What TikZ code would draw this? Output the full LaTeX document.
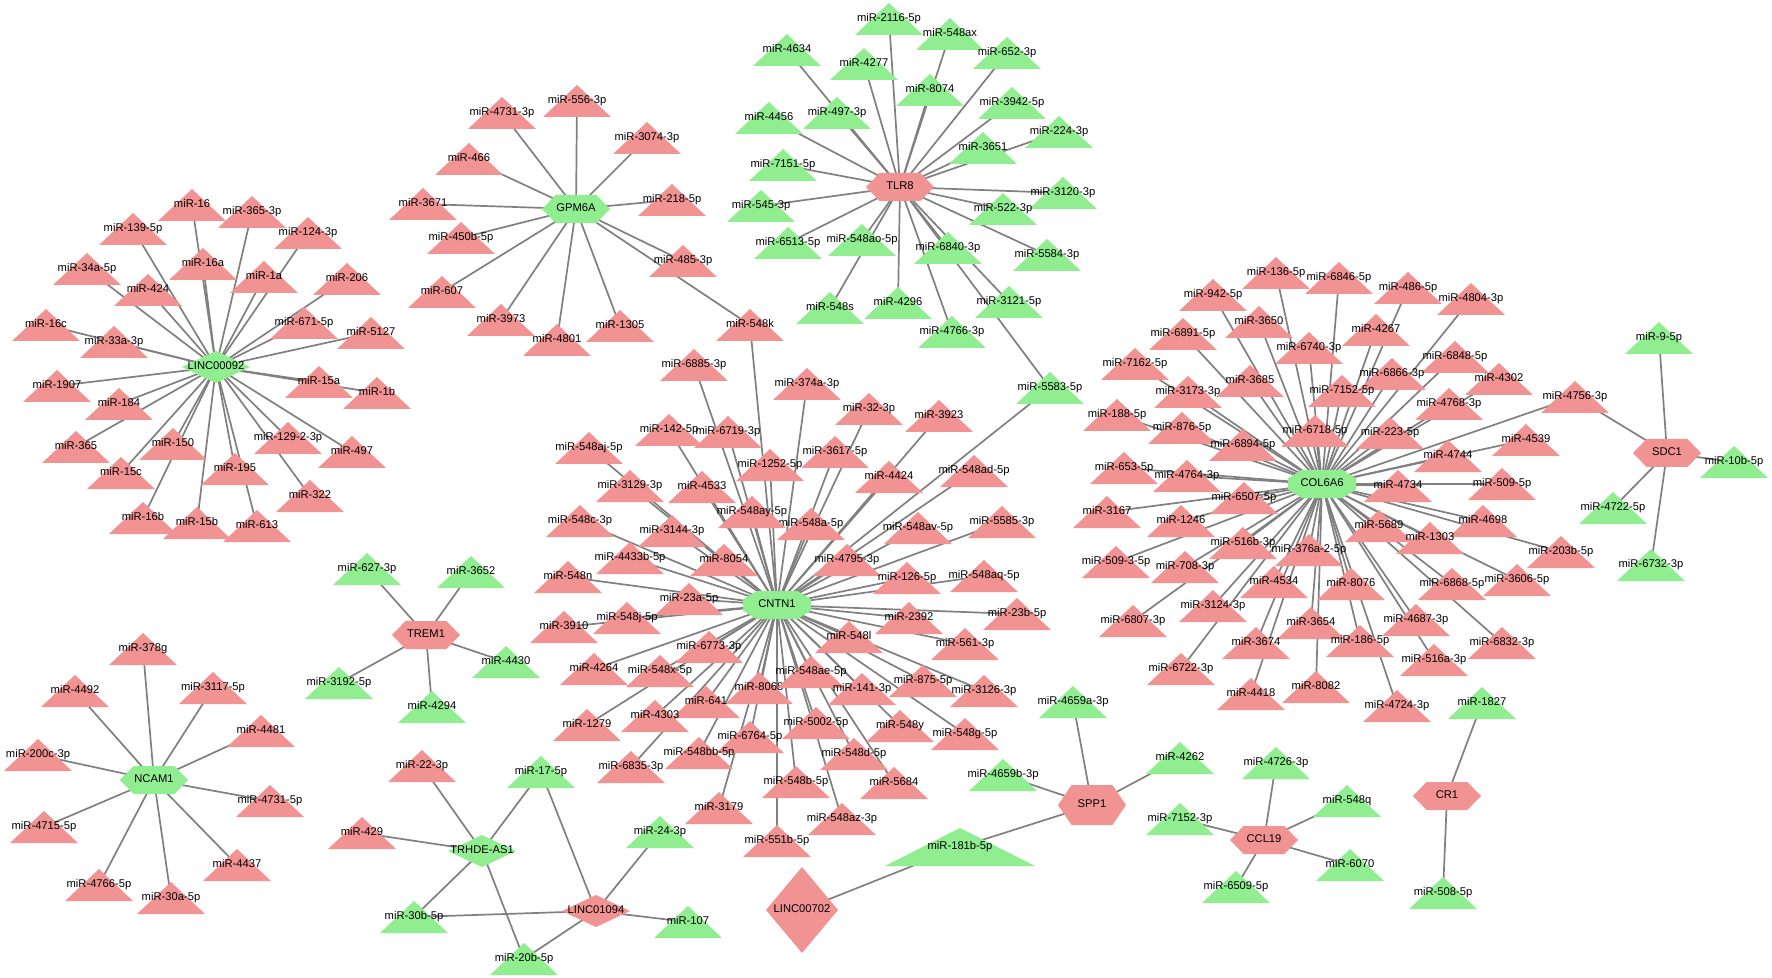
\documentclass[tikz,border=0pt]{standalone}
\usepackage{fontspec}
\setmainfont{Liberation Sans}
\definecolor{pk}{HTML}{F29393}
\definecolor{gr}{HTML}{90EE90}
\definecolor{edgec}{HTML}{808080}
\pgfdeclarelayer{back}
\pgfdeclarelayer{bg}
\pgfsetlayers{back,bg,main}
\makeatletter
\def\rsgetbox{%
  \southwest\edef\rxa{\strip@pt\pgf@x}\edef\rya{\strip@pt\pgf@y}%
  \northeast\edef\rxb{\strip@pt\pgf@x}\edef\ryb{\strip@pt\pgf@y}%
  \pgfmathsetmacro\rxm{((\rxa)+(\rxb))/2}%
  \pgfmathsetmacro\rym{((\rya)+(\ryb))/2}%
}
\def\rsq#1#2{\pgfqpoint{#1pt}{#2pt}}
\pgfdeclareshape{rstri}{%
  \inheritsavedanchors[from=rectangle]%
  \inheritanchorborder[from=rectangle]%
  \inheritanchor[from=rectangle]{center}%
  \inheritanchor[from=rectangle]{north}%
  \inheritanchor[from=rectangle]{south}%
  \inheritanchor[from=rectangle]{east}%
  \inheritanchor[from=rectangle]{west}%
  \backgroundpath{\rsgetbox
    \pgfpathmoveto{\rsq\rxa\rya}%
    \pgfpathlineto{\rsq\rxb\rya}%
    \pgfpathlineto{\rsq\rxm\ryb}%
    \pgfpathclose}%
}
\pgfdeclareshape{rshex}{%
  \inheritsavedanchors[from=rectangle]%
  \inheritanchorborder[from=rectangle]%
  \inheritanchor[from=rectangle]{center}%
  \inheritanchor[from=rectangle]{north}%
  \inheritanchor[from=rectangle]{south}%
  \inheritanchor[from=rectangle]{east}%
  \inheritanchor[from=rectangle]{west}%
  \backgroundpath{\rsgetbox
    \pgfmathsetmacro\rxi{(\rxa)+0.2*((\rxb)-(\rxa))}%
    \pgfmathsetmacro\rxj{(\rxb)-0.2*((\rxb)-(\rxa))}%
    \pgfpathmoveto{\rsq\rxa\rym}%
    \pgfpathlineto{\rsq\rxi\ryb}%
    \pgfpathlineto{\rsq\rxj\ryb}%
    \pgfpathlineto{\rsq\rxb\rym}%
    \pgfpathlineto{\rsq\rxj\rya}%
    \pgfpathlineto{\rsq\rxi\rya}%
    \pgfpathclose}%
}
\pgfdeclareshape{rsoct}{%
  \inheritsavedanchors[from=rectangle]%
  \inheritanchorborder[from=rectangle]%
  \inheritanchor[from=rectangle]{center}%
  \inheritanchor[from=rectangle]{north}%
  \inheritanchor[from=rectangle]{south}%
  \inheritanchor[from=rectangle]{east}%
  \inheritanchor[from=rectangle]{west}%
  \backgroundpath{\rsgetbox
    \pgfmathsetmacro\rxi{(\rxa)+0.2*((\rxb)-(\rxa))}%
    \pgfmathsetmacro\rxj{(\rxb)-0.2*((\rxb)-(\rxa))}%
    \pgfmathsetmacro\ryi{(\rya)+0.3*((\ryb)-(\rya))}%
    \pgfmathsetmacro\ryj{(\ryb)-0.3*((\ryb)-(\rya))}%
    \pgfpathmoveto{\rsq\rxa\ryi}%
    \pgfpathlineto{\rsq\rxa\ryj}%
    \pgfpathlineto{\rsq\rxi\ryb}%
    \pgfpathlineto{\rsq\rxj\ryb}%
    \pgfpathlineto{\rsq\rxb\ryj}%
    \pgfpathlineto{\rsq\rxb\ryi}%
    \pgfpathlineto{\rsq\rxj\rya}%
    \pgfpathlineto{\rsq\rxi\rya}%
    \pgfpathclose}%
}
\pgfdeclareshape{rsdia}{%
  \inheritsavedanchors[from=rectangle]%
  \inheritanchorborder[from=rectangle]%
  \inheritanchor[from=rectangle]{center}%
  \inheritanchor[from=rectangle]{north}%
  \inheritanchor[from=rectangle]{south}%
  \inheritanchor[from=rectangle]{east}%
  \inheritanchor[from=rectangle]{west}%
  \backgroundpath{\rsgetbox
    \pgfpathmoveto{\rsq\rxa\rym}%
    \pgfpathlineto{\rsq\rxm\ryb}%
    \pgfpathlineto{\rsq\rxb\rym}%
    \pgfpathlineto{\rsq\rxm\rya}%
    \pgfpathclose}%
}
\makeatother
\tikzset{
  nbase/.style={inner sep=0pt, outer sep=0pt, font=\fontsize{5.6}{6}\selectfont, text height=4.1pt, text depth=1.2pt, text=black},
  tp/.style={nbase, shape=rstri, fill=pk, minimum width=34pt, minimum height=16pt},
  tg/.style={nbase, shape=rstri, fill=gr, minimum width=34pt, minimum height=16pt},
  hexP/.style={nbase, shape=rshex, fill=pk, minimum width=34pt, minimum height=14pt},
  hexG/.style={nbase, shape=rshex, fill=gr, minimum width=34pt, minimum height=14pt},
  octG/.style={nbase, shape=rsoct, fill=gr, minimum width=34pt, minimum height=14pt},
  diaG/.style={nbase, shape=rsdia, fill=gr, minimum width=34pt, minimum height=16pt},
  diaP/.style={nbase, shape=rsdia, fill=pk, minimum width=34pt, minimum height=16pt},
  lnk/.style={draw=edgec, line width=0.85pt},
}
\newcommand\nP[2]{\node[tp] (m#1) at (#2) {\makebox[0pt]{miR-#1}};}
\newcommand\nG[2]{\node[tg] (m#1) at (#2) {\makebox[0pt]{miR-#1}};}
\newcommand\hubedges[2]{\foreach \t in {#2}{\draw[lnk] (#1.center) -- (m\t.center);}}
\begin{document}
\begin{tikzpicture}[x=0.5pt,y=-0.5pt]
\useasboundingbox (0,0) rectangle (1772,978);
\begin{pgfonlayer}{back}
\fill[white] (0,0) rectangle (1772,978);
\end{pgfonlayer}
% ---------- LINC00092 cluster ----------
\nP{16}{192,205}
\nP{365-3p}{252,212}
\nP{139-5p}{133,229}
\nP{124-3p}{308,233}
\nP{16a}{203,264}
\nP{34a-5p}{87,269}
\nP{1a}{264,277}
\nP{206}{347,279}
\nP{424}{148,290}
\nP{671-5p}{304,323}
\nP{5127}{371,333}
\nP{16c}{46,325}
\nP{33a-3p}{114,342}
\nP{1907}{57,386}
\nP{15a}{319,382}
\nP{1b}{377,393}
\nP{184}{119,404}
\nP{365}{76,447}
\nP{150}{173,444}
\nP{129-2-3p}{288,438}
\nP{497}{352,452}
\nP{15c}{121,473}
\nP{195}{235,469}
\nP{322}{310,496}
\nP{16b}{143,518}
\nP{15b}{197,523}
\nP{613}{257,526}
\node[diaG] (lnc92) at (216,367) {\makebox[0pt]{LINC00092}};
% ---------- GPM6A cluster ----------
\nP{556-3p}{577,101}
\nP{4731-3p}{502,113}
\nP{3074-3p}{647,138}
\nP{466}{469,159}
\nP{3671}{423,204}
\nP{218-5p}{672,200}
\nP{450b-5p}{461,238}
\nP{485-3p}{683,261}
\nP{607}{442,292}
\nP{3973}{501,320}
\nP{1305}{620,326}
\nP{4801}{557,340}
\nP{548k}{750,325}
\node[hexG] (gpm6a) at (576,209) {\makebox[0pt]{GPM6A}};
% ---------- TLR8 cluster ----------
\nG{2116-5p}{889,19}
\nG{548ax}{950,34}
\nG{4634}{787,50}
\nG{652-3p}{1007,53}
\nG{4277}{864,64}
\nG{8074}{930,90}
\nG{3942-5p}{1012,103}
\nG{4456}{769,118}
\nG{497-3p}{837,113}
\nG{224-3p}{1059,132}
\nG{3651}{983,148}
\nG{7151-5p}{783,165}
\nG{3120-3p}{1063,193}
\nG{545-3p}{761,206}
\nG{522-3p}{1003,209}
\nG{6513-5p}{788,243}
\nG{548ao-5p}{862,240}
\nG{6840-3p}{948,248}
\nG{5584-3p}{1047,255}
\nG{548s}{830,308}
\nG{4296}{898,303}
\nG{3121-5p}{1009,302}
\nG{4766-3p}{952,332}
\nG{5583-5p}{1050,388}
\node[hexP] (tlr8) at (900,187) {\makebox[0pt]{TLR8}};
% ---------- CNTN1 cluster ----------
\nP{6885-3p}{694,365}
\nP{374a-3p}{807,384}
\nP{32-3p}{869,409}
\nP{3923}{939,416}
\nP{142-5p}{669,430}
\nP{6719-3p}{728,432}
\nP{548aj-5p}{589,448}
\nP{3617-5p}{835,452}
\nP{1252-5p}{770,465}
\nP{548ad-5p}{974,471}
\nP{4424}{889,477}
\nP{3129-3p}{630,486}
\nP{4533}{702,487}
\nP{548a-5p}{811,524}
\nP{548ay-5p}{752,512}
\nP{548c-3p}{580,521}
\nP{3144-3p}{672,531}
\nP{548av-5p}{918,528}
\nP{5585-3p}{1002,522}
\nP{4433b-5p}{630,558}
\nP{8054}{724,560}
\nP{4795-3p}{847,560}
\nP{548n}{568,577}
\nP{126-5p}{907,578}
\nP{548aq-5p}{984,576}
\nP{23a-5p}{689,599}
\nP{548j-5p}{627,618}
\nP{3910}{564,627}
\nP{2392}{909,618}
\nP{23b-5p}{1017,614}
\nP{548l}{849,637}
\nP{561-3p}{965,644}
\nP{6773-3p}{709,647}
\nP{4264}{594,669}
\nP{548x-5p}{660,671}
\nP{8068}{759,688}
\nP{548ae-5p}{811,672}
\nP{875-5p}{923,681}
\nP{3126-3p}{984,691}
\nP{141-3p}{862,689}
\nP{641}{706,702}
\nP{1279}{587,725}
\nP{4303}{655,716}
\nP{5002-5p}{816,723}
\nP{548y}{900,726}
\nP{548g-5p}{965,734}
\nP{6764-5p}{750,737}
\nP{548bb-5p}{699,753}
\nP{548d-5p}{854,754}
\nP{6835-3p}{631,767}
\nP{548b-5p}{796,782}
\nP{5684}{894,783}
\nP{3179}{719,808}
\nP{548az-3p}{842,819}
\nP{551b-5p}{777,841}
\node[octG] (cntn1) at (777,605) {\makebox[0pt]{CNTN1}};
% ---------- COL6A6 cluster ----------
\nP{136-5p}{1276,273}
\nP{6846-5p}{1339,278}
\nP{486-5p}{1408,288}
\nP{4804-3p}{1471,299}
\nP{942-5p}{1213,295}
\nP{3650}{1259,322}
\nP{4267}{1376,330}
\nP{6891-5p}{1183,334}
\nP{6740-3p}{1309,348}
\nP{6848-5p}{1455,357}
\nP{7162-5p}{1135,364}
\nP{6866-3p}{1392,374}
\nP{4302}{1499,379}
\nP{3685}{1250,381}
\nP{3173-3p}{1188,392}
\nP{7152-5p}{1342,391}
\nP{4756-3p}{1575,397}
\nP{4768-3p}{1449,404}
\nP{188-5p}{1117,415}
\nP{876-5p}{1182,428}
\nP{6718-5p}{1315,431}
\nP{223-5p}{1390,433}
\nP{4539}{1526,440}
\nP{6894-5p}{1243,445}
\nP{4744}{1448,456}
\nP{653-5p}{1124,468}
\nP{4764-3p}{1187,476}
\nP{4734}{1398,486}
\nP{509-5p}{1502,484}
\nP{6507-5p}{1244,498}
\nP{3167}{1107,512}
\nP{1246}{1181,521}
\nP{4698}{1483,521}
\nP{5689}{1379,526}
\nP{1303}{1430,538}
\nP{203b-5p}{1561,552}
\nP{516b-3p}{1243,543}
\nP{376a-2-5p}{1309,550}
\nP{509-3-5p}{1116,562}
\nP{708-3p}{1185,567}
\nP{4534}{1274,582}
\nP{8076}{1351,584}
\nP{6868-5p}{1452,584}
\nP{3606-5p}{1517,580}
\nP{3124-3p}{1213,606}
\nP{6807-3p}{1133,621}
\nP{3654}{1311,623}
\nP{4687-3p}{1416,620}
\nP{3674}{1256,643}
\nP{186-5p}{1360,641}
\nP{6832-3p}{1502,643}
\nP{516a-3p}{1434,660}
\nP{6722-3p}{1181,669}
\nP{4418}{1251,694}
\nP{8082}{1316,687}
\nP{4724-3p}{1397,706}
\node[octG] (col6a6) at (1322,484) {\makebox[0pt]{COL6A6}};
% ---------- SDC1 ----------
\nG{9-5p}{1659,338}
\nG{10b-5p}{1734,462}
\nG{4722-5p}{1613,508}
\nG{6732-3p}{1651,565}
\node[hexP] (sdc1) at (1667,453) {\makebox[0pt]{SDC1}};
% ---------- TREM1 ----------
\nG{627-3p}{367,569}
\nG{3652}{471,572}
\nG{4430}{506,662}
\nG{3192-5p}{339,683}
\nG{4294}{432,707}
\node[hexP] (trem1) at (426,635) {\makebox[0pt]{TREM1}};
% ---------- NCAM1 ----------
\nP{378g}{143,649}
\nP{4492}{75,691}
\nP{3117-5p}{213,688}
\nP{4481}{261,731}
\nP{200c-3p}{38,755}
\nP{4731-5p}{270,801}
\nP{4715-5p}{44,827}
\nP{4437}{237,865}
\nP{4766-5p}{99,885}
\nP{30a-5p}{171,898}
\node[hexG] (ncam1) at (154,780) {\makebox[0pt]{NCAM1}};
% ---------- TRHDE-AS1 / LINC01094 ----------
\nP{22-3p}{422,766}
\nP{429}{362,833}
\nG{17-5p}{541,772}
\nG{24-3p}{660,832}
\nG{30b-5p}{414,917}
\nG{107}{688,922}
\nG{20b-5p}{524,959}
\node[diaG] (trhde) at (482,851) {\makebox[0pt]{TRHDE-AS1}};
\node[diaP] (lnc1094) at (596,911) {\makebox[0pt]{LINC01094}};
% ---------- SPP1 / LINC00702 ----------
\nG{4659a-3p}{1073,702}
\nG{4659b-3p}{1003,775}
\nG{4262}{1180,758}
\node[tg, minimum width=75pt, minimum height=19pt] (m181b-5p) at (960,847) {\makebox[0pt]{miR-181b-5p}};
\node[hexP, minimum height=20pt] (spp1) at (1092,805) {\makebox[0pt]{SPP1}};
\node[diaP, minimum width=36pt, minimum height=43pt] (lnc702) at (802,910) {\makebox[0pt]{LINC00702}};
% ---------- CCL19 ----------
\nG{4726-3p}{1276,763}
\nG{548q}{1347,801}
\nG{7152-3p}{1180,819}
\nG{6070}{1350,865}
\nG{6509-5p}{1236,887}
\node[hexP] (ccl19) at (1264,840) {\makebox[0pt]{CCL19}};
% ---------- CR1 ----------
\nG{1827}{1482,703}
\nG{508-5p}{1443,893}
\node[hexP] (cr1) at (1447,796) {\makebox[0pt]{CR1}};
% ---------- edges ----------
\begin{pgfonlayer}{bg}
\hubedges{lnc92}{16,365-3p,139-5p,124-3p,16a,34a-5p,1a,206,424,671-5p,5127,16c,33a-3p,1907,15a,1b,184,365,150,129-2-3p,497,15c,195,322,16b,15b,613}
\hubedges{gpm6a}{556-3p,4731-3p,3074-3p,466,3671,218-5p,450b-5p,485-3p,607,3973,1305,4801,548k}
\hubedges{tlr8}{2116-5p,548ax,4634,652-3p,4277,8074,3942-5p,4456,497-3p,224-3p,3651,7151-5p,3120-3p,545-3p,522-3p,6513-5p,548ao-5p,6840-3p,5584-3p,548s,4296,3121-5p,4766-3p,5583-5p}
\hubedges{cntn1}{548k,6885-3p,374a-3p,5583-5p,32-3p,3923,142-5p,6719-3p,548aj-5p,3617-5p,1252-5p,548ad-5p,4424,3129-3p,4533,548ay-5p,548a-5p,548c-3p,3144-3p,548av-5p,5585-3p,4433b-5p,8054,4795-3p,548n,126-5p,548aq-5p,23a-5p,548j-5p,3910,2392,23b-5p,548l,561-3p,6773-3p,4264,548x-5p,548ae-5p,875-5p,3126-3p,8068,141-3p,641,1279,4303,5002-5p,548y,548g-5p,6764-5p,548bb-5p,548d-5p,6835-3p,548b-5p,5684,3179,548az-3p,551b-5p}
\hubedges{col6a6}{136-5p,6846-5p,486-5p,4804-3p,942-5p,3650,4267,6891-5p,6740-3p,6848-5p,7162-5p,6866-3p,4302,3685,3173-3p,7152-5p,4756-3p,4768-3p,188-5p,876-5p,6718-5p,223-5p,4539,6894-5p,4744,653-5p,4764-3p,4734,509-5p,6507-5p,3167,1246,4698,5689,1303,203b-5p,516b-3p,376a-2-5p,509-3-5p,708-3p,4534,8076,6868-5p,3606-5p,3124-3p,6807-3p,3654,4687-3p,3674,186-5p,6832-3p,516a-3p,6722-3p,4418,8082,4724-3p}
\hubedges{sdc1}{9-5p,4756-3p,10b-5p,4722-5p,6732-3p}
\hubedges{trem1}{627-3p,3652,4430,3192-5p,4294}
\hubedges{ncam1}{378g,4492,3117-5p,4481,200c-3p,4731-5p,4715-5p,4437,4766-5p,30a-5p}
\hubedges{trhde}{22-3p,17-5p,429,30b-5p,20b-5p}
\hubedges{lnc1094}{17-5p,24-3p,30b-5p,107,20b-5p}
\hubedges{lnc702}{181b-5p}
\hubedges{spp1}{181b-5p,4659a-3p,4659b-3p,4262}
\hubedges{ccl19}{4726-3p,548q,7152-3p,6070,6509-5p}
\hubedges{cr1}{1827,508-5p}
\end{pgfonlayer}
\end{tikzpicture}
\end{document}
